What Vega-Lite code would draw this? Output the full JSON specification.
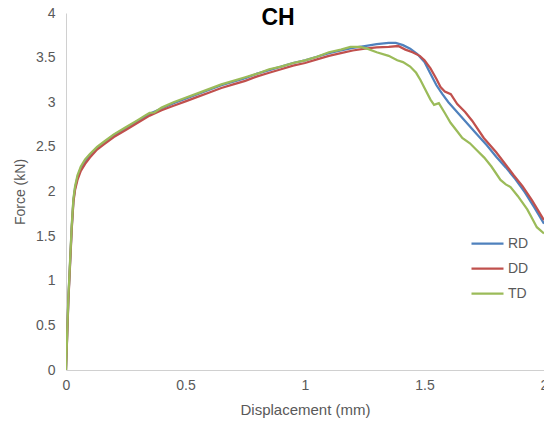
{
  "$schema": "https://vega.github.io/schema/vega-lite/v6.json",
  "width": 478,
  "height": 357,
  "autosize": {"type": "none"},
  "padding": {"left": 66, "top": 13, "right": 0, "bottom": 55},
  "background": "white",
  "title": {"text": "CH", "anchor": "middle", "frame": "group", "dx": -27, "dy": 24, "fontSize": 23, "fontWeight": "bold", "font": "Liberation Sans", "color": "#000000", "offset": 0},
  "config": {"view": {"stroke": null}},
  "datasets": {
    "curves": [
      {"s":"RD","x":0,"y":0},{"s":"RD","x":0.005,"y":0.4},{"s":"RD","x":0.01,"y":0.8},{"s":"RD","x":0.017,"y":1.2},{"s":"RD","x":0.024,"y":1.6},{"s":"RD","x":0.031,"y":1.9},{"s":"RD","x":0.038,"y":2.04},{"s":"RD","x":0.048,"y":2.16},{"s":"RD","x":0.062,"y":2.26},{"s":"RD","x":0.08,"y":2.34},{"s":"RD","x":0.1,"y":2.41},{"s":"RD","x":0.13,"y":2.49},{"s":"RD","x":0.16,"y":2.55},{"s":"RD","x":0.2,"y":2.63},{"s":"RD","x":0.25,"y":2.71},{"s":"RD","x":0.3,"y":2.79},{"s":"RD","x":0.35,"y":2.87},{"s":"RD","x":0.4,"y":2.93},{"s":"RD","x":0.45,"y":2.99},{"s":"RD","x":0.5,"y":3.04},{"s":"RD","x":0.55,"y":3.09},{"s":"RD","x":0.6,"y":3.14},{"s":"RD","x":0.65,"y":3.19},{"s":"RD","x":0.7,"y":3.23},{"s":"RD","x":0.75,"y":3.27},{"s":"RD","x":0.8,"y":3.32},{"s":"RD","x":0.85,"y":3.36},{"s":"RD","x":0.9,"y":3.4},{"s":"RD","x":0.95,"y":3.44},{"s":"RD","x":1.0,"y":3.47},{"s":"RD","x":1.05,"y":3.51},{"s":"RD","x":1.1,"y":3.55},{"s":"RD","x":1.15,"y":3.58},{"s":"RD","x":1.2,"y":3.61},{"s":"RD","x":1.25,"y":3.63},{"s":"RD","x":1.3,"y":3.65},{"s":"RD","x":1.35,"y":3.665},{"s":"RD","x":1.38,"y":3.665},{"s":"RD","x":1.41,"y":3.64},{"s":"RD","x":1.44,"y":3.6},{"s":"RD","x":1.47,"y":3.54},{"s":"RD","x":1.5,"y":3.45},{"s":"RD","x":1.525,"y":3.32},{"s":"RD","x":1.55,"y":3.19},{"s":"RD","x":1.575,"y":3.09},{"s":"RD","x":1.6,"y":3.0},{"s":"RD","x":1.64,"y":2.88},{"s":"RD","x":1.68,"y":2.76},{"s":"RD","x":1.72,"y":2.64},{"s":"RD","x":1.76,"y":2.52},{"s":"RD","x":1.8,"y":2.39},{"s":"RD","x":1.84,"y":2.27},{"s":"RD","x":1.88,"y":2.14},{"s":"RD","x":1.92,"y":1.99},{"s":"RD","x":1.96,"y":1.82},{"s":"RD","x":2.0,"y":1.64},
      {"s":"DD","x":0,"y":0},{"s":"DD","x":0.005,"y":0.38},{"s":"DD","x":0.01,"y":0.78},{"s":"DD","x":0.017,"y":1.18},{"s":"DD","x":0.024,"y":1.58},{"s":"DD","x":0.031,"y":1.88},{"s":"DD","x":0.038,"y":2.02},{"s":"DD","x":0.048,"y":2.13},{"s":"DD","x":0.062,"y":2.23},{"s":"DD","x":0.08,"y":2.31},{"s":"DD","x":0.1,"y":2.38},{"s":"DD","x":0.13,"y":2.47},{"s":"DD","x":0.16,"y":2.53},{"s":"DD","x":0.2,"y":2.61},{"s":"DD","x":0.25,"y":2.69},{"s":"DD","x":0.3,"y":2.77},{"s":"DD","x":0.35,"y":2.85},{"s":"DD","x":0.4,"y":2.91},{"s":"DD","x":0.45,"y":2.96},{"s":"DD","x":0.5,"y":3.01},{"s":"DD","x":0.55,"y":3.06},{"s":"DD","x":0.6,"y":3.11},{"s":"DD","x":0.65,"y":3.16},{"s":"DD","x":0.7,"y":3.2},{"s":"DD","x":0.75,"y":3.24},{"s":"DD","x":0.8,"y":3.29},{"s":"DD","x":0.85,"y":3.33},{"s":"DD","x":0.9,"y":3.37},{"s":"DD","x":0.95,"y":3.41},{"s":"DD","x":1.0,"y":3.44},{"s":"DD","x":1.05,"y":3.48},{"s":"DD","x":1.1,"y":3.52},{"s":"DD","x":1.15,"y":3.55},{"s":"DD","x":1.2,"y":3.58},{"s":"DD","x":1.25,"y":3.6},{"s":"DD","x":1.3,"y":3.615},{"s":"DD","x":1.35,"y":3.62},{"s":"DD","x":1.39,"y":3.63},{"s":"DD","x":1.42,"y":3.59},{"s":"DD","x":1.45,"y":3.56},{"s":"DD","x":1.48,"y":3.52},{"s":"DD","x":1.5,"y":3.47},{"s":"DD","x":1.525,"y":3.38},{"s":"DD","x":1.55,"y":3.26},{"s":"DD","x":1.567,"y":3.17},{"s":"DD","x":1.585,"y":3.12},{"s":"DD","x":1.61,"y":3.09},{"s":"DD","x":1.637,"y":2.98},{"s":"DD","x":1.67,"y":2.89},{"s":"DD","x":1.7,"y":2.79},{"s":"DD","x":1.748,"y":2.6},{"s":"DD","x":1.8,"y":2.44},{"s":"DD","x":1.84,"y":2.3},{"s":"DD","x":1.874,"y":2.18},{"s":"DD","x":1.91,"y":2.06},{"s":"DD","x":1.95,"y":1.9},{"s":"DD","x":2.0,"y":1.68},
      {"s":"TD","x":0,"y":0},{"s":"TD","x":0.005,"y":0.42},{"s":"TD","x":0.01,"y":0.82},{"s":"TD","x":0.017,"y":1.22},{"s":"TD","x":0.024,"y":1.62},{"s":"TD","x":0.031,"y":1.92},{"s":"TD","x":0.038,"y":2.06},{"s":"TD","x":0.048,"y":2.18},{"s":"TD","x":0.062,"y":2.28},{"s":"TD","x":0.08,"y":2.36},{"s":"TD","x":0.1,"y":2.42},{"s":"TD","x":0.13,"y":2.5},{"s":"TD","x":0.16,"y":2.56},{"s":"TD","x":0.2,"y":2.64},{"s":"TD","x":0.25,"y":2.72},{"s":"TD","x":0.3,"y":2.8},{"s":"TD","x":0.33,"y":2.85},{"s":"TD","x":0.35,"y":2.88},{"s":"TD","x":0.37,"y":2.885},{"s":"TD","x":0.4,"y":2.94},{"s":"TD","x":0.45,"y":3.0},{"s":"TD","x":0.5,"y":3.05},{"s":"TD","x":0.55,"y":3.1},{"s":"TD","x":0.6,"y":3.15},{"s":"TD","x":0.65,"y":3.2},{"s":"TD","x":0.7,"y":3.24},{"s":"TD","x":0.75,"y":3.28},{"s":"TD","x":0.8,"y":3.32},{"s":"TD","x":0.85,"y":3.37},{"s":"TD","x":0.9,"y":3.4},{"s":"TD","x":0.95,"y":3.44},{"s":"TD","x":1.0,"y":3.47},{"s":"TD","x":1.05,"y":3.51},{"s":"TD","x":1.1,"y":3.56},{"s":"TD","x":1.15,"y":3.59},{"s":"TD","x":1.19,"y":3.62},{"s":"TD","x":1.23,"y":3.62},{"s":"TD","x":1.26,"y":3.6},{"s":"TD","x":1.3,"y":3.56},{"s":"TD","x":1.35,"y":3.52},{"s":"TD","x":1.386,"y":3.47},{"s":"TD","x":1.41,"y":3.45},{"s":"TD","x":1.44,"y":3.4},{"s":"TD","x":1.465,"y":3.33},{"s":"TD","x":1.483,"y":3.25},{"s":"TD","x":1.5,"y":3.16},{"s":"TD","x":1.525,"y":3.03},{"s":"TD","x":1.54,"y":2.97},{"s":"TD","x":1.56,"y":2.99},{"s":"TD","x":1.585,"y":2.88},{"s":"TD","x":1.609,"y":2.77},{"s":"TD","x":1.635,"y":2.68},{"s":"TD","x":1.658,"y":2.6},{"s":"TD","x":1.69,"y":2.54},{"s":"TD","x":1.72,"y":2.46},{"s":"TD","x":1.75,"y":2.38},{"s":"TD","x":1.78,"y":2.28},{"s":"TD","x":1.818,"y":2.13},{"s":"TD","x":1.84,"y":2.08},{"s":"TD","x":1.86,"y":2.05},{"s":"TD","x":1.89,"y":1.95},{"s":"TD","x":1.93,"y":1.8},{"s":"TD","x":1.95,"y":1.7},{"s":"TD","x":1.97,"y":1.6},{"s":"TD","x":2.0,"y":1.53}
    ]
  },
  "data": {"name": "curves"},
  "mark": {"type": "line", "strokeWidth": 2.25, "clip": true},
  "encoding": {
    "x": {
      "field": "x", "type": "quantitative",
      "scale": {"domain": [0, 2], "nice": false},
      "axis": {"values": [0, 0.5, 1, 1.5, 2], "format": "~g", "title": "Displacement (mm)", "grid": false, "ticks": false, "domainColor": "#D0D0D0", "labelColor": "#595959", "labelFont": "Liberation Sans", "labelFontSize": 14, "labelPadding": 8, "titleColor": "#595959", "titleFont": "Liberation Sans", "titleFontSize": 15, "titleFontWeight": "normal", "titlePadding": 10, "labelFlush": false, "labelOverlap": false}
    },
    "y": {
      "field": "y", "type": "quantitative",
      "scale": {"domain": [0, 4], "nice": false},
      "axis": {"values": [0, 0.5, 1, 1.5, 2, 2.5, 3, 3.5, 4], "format": "~g", "title": "Force (kN)", "grid": false, "ticks": false, "domainColor": "#D0D0D0", "labelColor": "#595959", "labelFont": "Liberation Sans", "labelFontSize": 14, "labelPadding": 11, "titleColor": "#595959", "titleFont": "Liberation Sans", "titleFontSize": 14, "titleFontWeight": "normal", "titlePadding": 8, "labelFlush": false, "labelOverlap": false}
    },
    "color": {
      "field": "s", "type": "nominal",
      "scale": {"domain": ["RD", "DD", "TD"], "range": ["#4F81BD", "#C0504D", "#9BBB59"]},
      "legend": {"title": null, "orient": "none", "legendX": 404, "legendY": 213, "symbolType": "stroke", "symbolSize": 1024, "symbolStrokeWidth": 2.25, "labelFont": "Liberation Sans", "labelFontSize": 14, "labelColor": "#595959", "labelOffset": 3, "rowPadding": -1, "padding": 0}
    },
    "order": {"field": "s", "sort": "descending"}
  }
}
